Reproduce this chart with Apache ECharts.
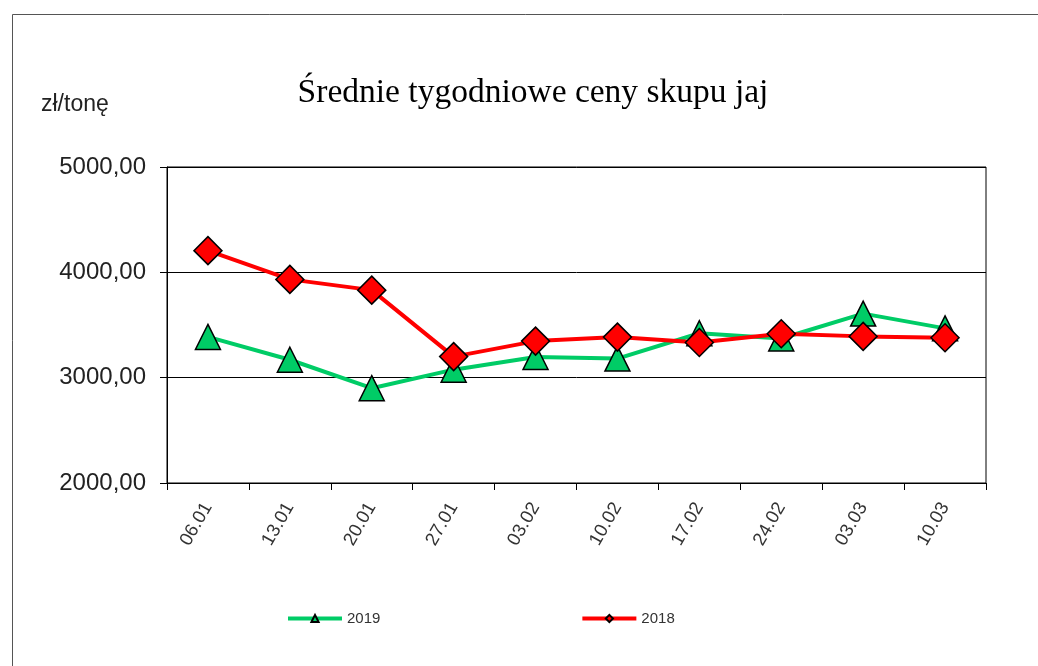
<!DOCTYPE html>
<html><head><meta charset="utf-8">
<script src="https://cdn.jsdelivr.net/npm/echarts@6/dist/echarts.min.js"></script>
<style>html,body{margin:0;padding:0;background:#fff}#c{width:1038px;height:666px}</style>
</head><body><div id="c"></div>
<script>
const categories = ['06.01','13.01','20.01','27.01','03.02','10.02','17.02','24.02','03.03','10.03'];
const values2019 = [3387, 3170, 2900, 3076, 3196, 3181, 3422, 3372, 3608, 3468];
const values2018 = [4206, 3933, 3831, 3200, 3347, 3385, 3334, 3417, 3392, 3379];
const yTicks = { min: 2000, max: 5000, interval: 1000 };
const titleText = 'Średnie tygodniowe ceny skupu jaj';
const unitText = 'zł/tonę';

const chart = echarts.init(document.getElementById('c'), null, {renderer:'canvas'});
chart.setOption({
  animation:false,
  backgroundColor:'#fff',
  title:{text:titleText,left:528,textAlign:'center',top:71,
    textStyle:{fontFamily:'Liberation Serif',fontWeight:'normal',fontSize:33.5,color:'#000'}},
  graphic:[
    {type:'rect',shape:{x:12.5,y:14.5,width:1100,height:700},style:{fill:'none',stroke:'#555',lineWidth:1},silent:true},
    {type:'text',left:41,top:93,style:{text:unitText,fontFamily:'Liberation Sans',fontSize:23,fill:'#222'}}
  ],
  legend:{left:286,top:611,padding:0,itemWidth:54,itemHeight:9,itemGap:200,
    lineStyle:{width:4},
    textStyle:{fontFamily:'Liberation Sans',fontSize:15,color:'#333'},
    data:['2019','2018']},
  grid:{left:167,top:167,right:52,bottom:183,show:true,borderColor:'#000',borderWidth:1},
  xAxis:{type:'category',data:categories,boundaryGap:true,
    axisLine:{lineStyle:{color:'#000'}},
    axisTick:{show:true,alignWithLabel:false,length:7,lineStyle:{color:'#000'}},
    axisLabel:{rotate:60,margin:21,fontFamily:'Liberation Sans',fontSize:18.5,color:'#333'}},
  yAxis:{type:'value',min:yTicks.min,max:yTicks.max,interval:yTicks.interval,
    axisLine:{show:true,lineStyle:{color:'#000'}},
    axisTick:{show:true,length:7,lineStyle:{color:'#000'}},
    splitLine:{lineStyle:{color:'#000',width:1}},
    axisLabel:{margin:21,fontFamily:'Liberation Sans',fontSize:24,color:'#222',
      formatter:v=>v.toFixed(2).replace('.',',')}},
  series:[
    {name:'2019',type:'line',data:values2019,symbol:'triangle',symbolSize:[25,25],
      lineStyle:{color:'#00cc66',width:4},
      itemStyle:{color:'#00cc66',borderColor:'#000',borderWidth:1.5}},
    {name:'2018',type:'line',data:values2018,symbol:'diamond',symbolSize:[28,28],
      lineStyle:{color:'#ff0000',width:4},
      itemStyle:{color:'#ff0000',borderColor:'#000',borderWidth:1.5}}
  ]
});
</script></body></html>
